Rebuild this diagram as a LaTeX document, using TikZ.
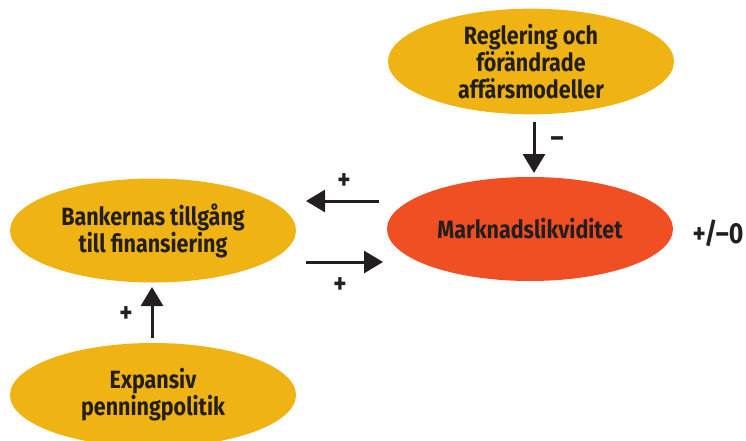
\documentclass[tikz,border=0pt]{standalone}
\usepackage{fontspec}
\setmainfont{Fira Sans}[FakeStretch=0.86]
\usetikzlibrary{shapes.geometric,arrows.meta}
\definecolor{ochre}{HTML}{EFB314}
\definecolor{flame}{HTML}{F04E23}
\definecolor{ink}{HTML}{231F20}
\tikzset{
  blob/.style={ellipse, minimum width=286pt, minimum height=104pt, inner sep=0pt,
    font=\fontsize{25}{27}\selectfont\bfseries, text=ink, align=center},
  yblob/.style={blob, fill=ochre},
  rblob/.style={blob, fill=flame},
  link/.style={line width=3pt, draw=ink, -{Triangle[width=22pt,length=19pt]}},
  sign/.style={font=\fontsize{29}{30}\selectfont\bfseries, text=ink, inner sep=0pt}
}
\begin{document}
\begin{tikzpicture}[x=1pt,y=-1pt]
\useasboundingbox (0,0) rectangle (746,441);
\node[yblob] (reg) at (531,61.5) {Reglering och\\förändrade\\affärsmodeller};
\node[rblob] (mark) at (530,229) {Marknadslikviditet};
\node[yblob] (bank) at (153,230.5) {Bankernas tillgång\\till finansiering};
\node[yblob] (exp) at (153,395) {Expansiv\\penningpolitik};
\coordinate (a1s) at (534,122); \coordinate (a1e) at (534,173);
\coordinate (a2s) at (379,201); \coordinate (a2e) at (306,201);
\coordinate (a3s) at (306,262); \coordinate (a3e) at (383,262);
\coordinate (a4s) at (152,338); \coordinate (a4e) at (152,287);
\draw[link] (a1s) -- (a1e);
\draw[link] (a2s) -- (a2e);
\draw[link] (a3s) -- (a3e);
\draw[link] (a4s) -- (a4e);
\node[sign] (m1) at (557,142) {–};
\node[sign] (p1) at (344,182) {+};
\node[sign] (p2) at (340,286) {+};
\node[sign] (p3) at (126,315) {+};
\node[sign] (net) at (718,233) {+/–0};
\end{tikzpicture}
\end{document}
